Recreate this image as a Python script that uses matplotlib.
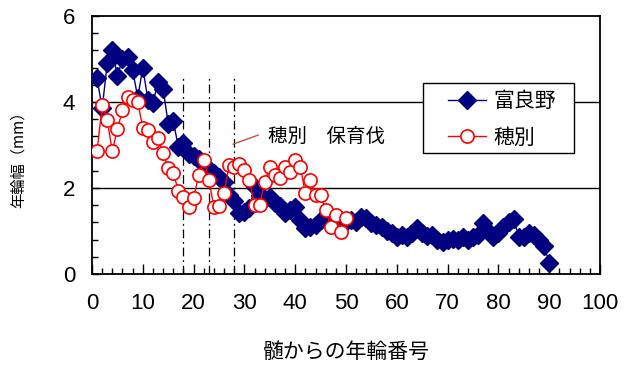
import matplotlib
matplotlib.use("Agg")
import matplotlib.pyplot as plt
from matplotlib.ticker import MultipleLocator
from matplotlib.patches import Rectangle
import numpy as np

plt.rcParams['font.family'] = ['Noto Sans CJK JP', 'DejaVu Sans']

# ---- data ----
furano_label = "富良野"
hobetsu_label = "穂別"
furano_years = list(range(1, 91))
furano_width = [4.55, 3.85, 4.9, 5.2, 4.6, 5.0, 5.05, 4.75, 4.1, 4.8,
                4.05, 3.97, 4.47, 4.3, 3.5, 3.55, 2.96, 3.04, 2.8, 2.75,
                2.68, 2.53, 2.45, 2.34, 2.25, 2.15, 1.84, 1.7, 1.41, 1.45,
                1.53, 2.03, 1.84, 1.75, 1.8, 1.65, 1.57, 1.42, 1.5, 1.56,
                1.26, 1.07, 1.1, 1.15, 1.26, 1.3, 1.33, 1.25, 1.26, 1.2,
                1.26, 1.2, 1.33, 1.3, 1.18, 1.15, 1.1, 1.0, 0.95, 0.87,
                0.9, 0.87, 0.95, 1.07, 0.95, 0.88, 0.9, 0.8, 0.75, 0.8,
                0.82, 0.8, 0.85, 0.8, 0.85, 0.9, 1.18, 1.0, 0.87, 0.95,
                1.1, 1.2, 1.28, 0.87, 0.85, 0.95, 0.9, 0.8, 0.65, 0.26]
hobetsu_years = list(range(1, 51))
hobetsu_width = [2.85, 3.93, 3.58, 2.85, 3.37, 3.81, 4.12, 4.05, 4.0, 3.4,
                 3.35, 3.08, 3.16, 2.82, 2.46, 2.36, 1.93, 1.8, 1.55, 1.77,
                 2.3, 2.65, 2.19, 1.56, 1.58, 1.89, 2.53, 2.5, 2.55, 2.42,
                 2.19, 1.6, 1.6, 2.15, 2.5, 2.3, 2.23, 2.5, 2.38, 2.65,
                 2.5, 1.88, 2.19, 1.84, 1.84, 1.49, 1.1, 1.37, 0.98, 1.3]
cut_years = [18, 23, 28]
annotation_text = "穂別　保育伐"
xlabel = "髄からの年輪番号"
ylabel = "年輪幅（mm）"
xticks = [0, 10, 20, 30, 40, 50, 60, 70, 80, 90, 100]
yticks = [0, 2, 4, 6]

# ---- figure ----
fig = plt.figure(figsize=(6.34, 3.65), dpi=100)
ax = fig.add_axes([92/634, 1-274/365, 508/634, 258/365])

ax.set_xlim(0, 100)
ax.set_ylim(0, 6)

for yv in [2, 4]:
    ax.axhline(yv, color='black', lw=1.0, zorder=1)

for cx in cut_years:
    ax.plot([cx, cx], [0, 4.62], color='black', lw=0.9,
            linestyle=(0, (7, 3, 1.5, 3)), zorder=1)

ax.plot(furano_years, furano_width, color='#000080', lw=1.0, marker='D',
        markersize=9, markerfacecolor='#000080', markeredgecolor='#000080',
        label=furano_label, zorder=3)
ax.plot(hobetsu_years, hobetsu_width, color='#FF0000', lw=1.0, marker='o',
        markersize=9.5, markerfacecolor='white', markeredgecolor='#FF0000',
        markeredgewidth=1.2, label=hobetsu_label, zorder=4)

ax.plot([27.8, 32.7], [3.02, 3.23], color='#C0504D', lw=1.0, zorder=2)
ax.text(34.6, 3.2, annotation_text, fontsize=14, va='center', ha='left')

ax.set_xticks(xticks)
ax.set_yticks(yticks)
ax.xaxis.set_minor_locator(MultipleLocator(2))
ax.yaxis.set_minor_locator(MultipleLocator(0.4))
ax.tick_params(axis='both', which='both', direction='in', color='black')
ax.tick_params(axis='x', which='major', length=7, width=1.0, pad=14)
ax.tick_params(axis='x', which='minor', length=4, width=1.0)
ax.tick_params(axis='y', which='major', length=5, width=1.0, pad=12)
ax.tick_params(axis='y', which='minor', length=4, width=1.0)
for lab in ax.get_xticklabels() + ax.get_yticklabels():
    lab.set_fontfamily(['Liberation Sans', 'DejaVu Sans'])
    lab.set_fontsize(16)

for sp in ax.spines.values():
    sp.set_linewidth(1.3)
    sp.set_color('black')

ax.set_xlabel(xlabel, fontsize=15, labelpad=19)
ax.set_ylabel(ylabel, fontsize=11)
ax.yaxis.set_label_coords(-0.128, 0.46)

# legend box (frame drawn as a patch so its padding can match)
box = Rectangle((0.652, 0.469), 0.297, 0.273, transform=ax.transAxes,
                facecolor='white', edgecolor='black', lw=1.0, zorder=5)
ax.add_patch(box)
leg = ax.legend(loc='upper left', bbox_to_anchor=(0.700, 0.712),
                frameon=False, fontsize=15, handlelength=1.85,
                borderpad=0.0, labelspacing=0.68, handletextpad=0.35,
                borderaxespad=0.0)
leg.set_zorder(6)

fig.savefig("out.png", dpi=100)
